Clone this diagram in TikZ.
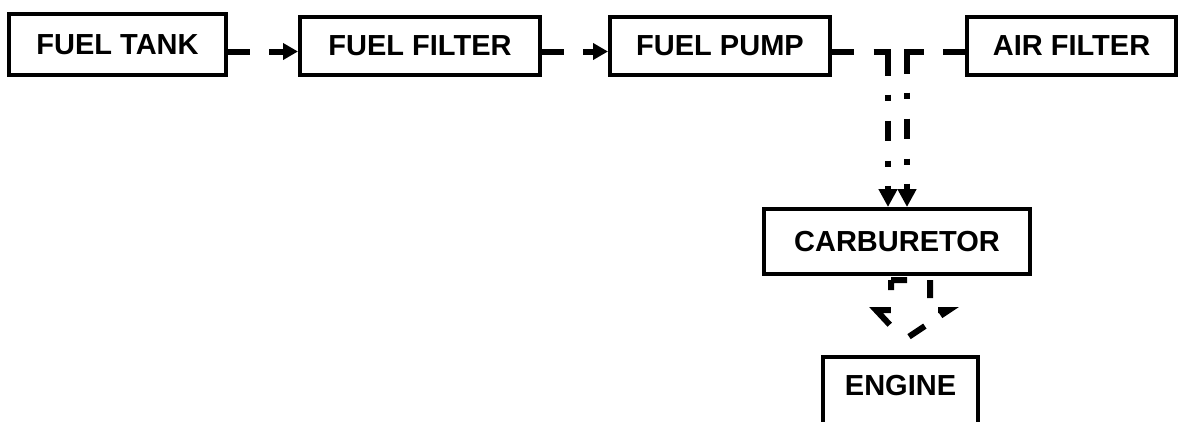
\documentclass[tikz,border=0pt]{standalone}
\usepackage{fontspec}
\setmainfont{Liberation Sans}
\definecolor{mInk}{HTML}{000000}
\usetikzlibrary{arrows.meta}

\begin{document}
\begin{tikzpicture}[x=1pt, y=-1pt, font=\fontsize{29}{34}\selectfont\bfseries,
  unitbox/.style={draw=mInk, line width=4pt, rectangle, fill=white},
  flowline/.style={draw=mInk, line width=6pt, dash pattern=on 22pt off 19pt on 100pt, -{Triangle[length=15pt,width=16pt]}},
  feedline/.style={draw=mInk, line width=6pt, dash pattern=on 22pt off 19.5pt on 38.5pt off 19pt on 6pt off 20pt on 20pt off 20pt on 6pt off 19pt on 60pt off 0pt, -{Triangle[length=18pt,width=18pt]}},
  outletarrow/.style={draw=mInk, line width=6pt, dash pattern=on 16pt off 23pt on 18pt off 20pt on 21pt off 19pt on 19pt off 27pt on 35pt off 20pt on 10pt off 0pt}]
\useasboundingbox (0,0) rectangle (1182,421);
\node[unitbox, minimum width=217pt, minimum height=61pt] (FT) at (117.5,44.5) {FUEL TANK};
\node[unitbox, minimum width=240pt, minimum height=58pt] (FF) at (420,46) {FUEL FILTER};
\node[unitbox, minimum width=220pt, minimum height=58pt] (FP) at (720,46) {FUEL PUMP};
\node[unitbox, minimum width=209pt, minimum height=58pt] (AF) at (1071.5,46) {AIR FILTER};
\node[unitbox, minimum width=266pt, minimum height=65pt] (CB) at (897,241.5) {CARBURETOR};
\node[unitbox, anchor=north, minimum width=155pt, inner ysep=18pt, text depth=80pt] (EN) at (900.5,355) {ENGINE};
\draw[flowline] ([yshift=-7pt]FT.east) -- ([yshift=-5.5pt]FF.west);
\draw[flowline] ([yshift=-5.5pt]FF.east) -- ([yshift=-5.5pt]FP.west);
\draw[feedline] ([yshift=-5.5pt]FP.east) -| ([xshift=-9pt]CB.north);
\draw[feedline] ([yshift=-5.5pt]AF.west) -| ([xshift=10pt]CB.north);
\draw[outletarrow] ([xshift=-6pt,yshift=-4pt]CB.south) -- ++(39,0) -- ++(0,30) -- ++(19,0) -- ++(-45,30) -- ++(-28,-30) -- ++(15,0) -- cycle;
\end{tikzpicture}
\end{document}
